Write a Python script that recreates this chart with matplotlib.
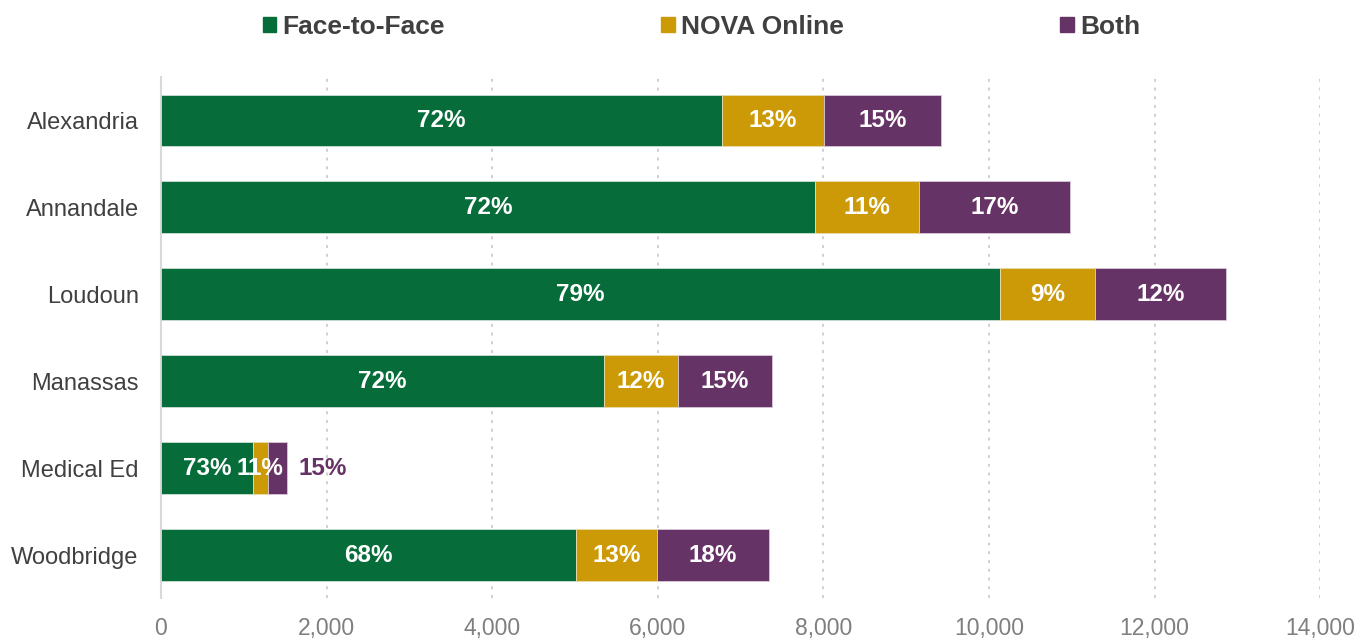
import numpy as np
import matplotlib.pyplot as plt
from matplotlib.patches import Patch
from matplotlib.ticker import FuncFormatter

plt.rcParams['font.family'] = ['Liberation Sans', 'DejaVu Sans']

# data
campuses = ["Alexandria", "Annandale", "Loudoun", "Manassas", "Medical Ed", "Woodbridge"]
face = [6775, 7900, 10135, 5350, 1110, 5010]
online = [1230, 1255, 1145, 895, 180, 980]
both = [1415, 1825, 1580, 1135, 230, 1355]
face_pct = ["72%", "72%", "79%", "72%", "73%", "68%"]
online_pct = ["13%", "11%", "9%", "12%", "11%", "13%"]
both_pct = ["15%", "17%", "12%", "15%", "15%", "18%"]

GREEN = "#066d3a"
GOLD = "#cc9a06"
PURPLE = "#663366"

fig = plt.figure(figsize=(13.71, 6.39), dpi=100)
ax = fig.add_axes([0.1174, 0.0634, 0.8456, 0.8166])

y = np.arange(len(campuses))
h = 0.59
face = np.array(face); online = np.array(online); both = np.array(both)
ax.barh(y, face, h, color=GREEN, edgecolor="#cfe0d5", linewidth=0.6, zorder=3)
ax.barh(y, online, h, left=face, color=GOLD, edgecolor="#e8dcb0", linewidth=0.6, zorder=3)
ax.barh(y, both, h, left=face + online, color=PURPLE, edgecolor="#d8c8d8", linewidth=0.6, zorder=3)

lab = dict(fontsize=17.5, fontweight="bold", ha="center", va="center", zorder=4)
for i in range(len(campuses)):
    ax.text(face[i] / 2, y[i], face_pct[i], color="white", **lab)
    ax.text(face[i] + online[i] / 2, y[i], online_pct[i], color="white", **lab)
    if both[i] < 600:
        ax.text(face[i] + online[i] + both[i] + 140, y[i], both_pct[i], color=PURPLE,
                fontsize=17.5, fontweight="bold", ha="left", va="center", zorder=4)
    else:
        ax.text(face[i] + online[i] + both[i] / 2, y[i], both_pct[i], color="white", **lab)

ax.set_xlim(0, 14000)
ax.set_ylim(len(campuses) - 0.5, -0.5)
ax.set_yticks(y)
ax.set_yticklabels(campuses, fontsize=17, color="#404040")
ax.set_xticks(np.arange(0, 14001, 2000))
ax.xaxis.set_major_formatter(FuncFormatter(lambda v, p: f"{int(v):,}"))
ax.tick_params(axis="x", labelsize=16.5, labelcolor="#7f7f7f", length=0, pad=13)
ax.tick_params(axis="y", length=0, pad=16)
ax.grid(axis="x", color="#cfcfcf", linestyle=(0, (1.5, 3)), linewidth=1.4, zorder=0)
for s in ["top", "right", "bottom"]:
    ax.spines[s].set_visible(False)
ax.spines["left"].set_color("#d9d9d9")
ax.spines["left"].set_linewidth(1.5)

handles = [Patch(color=GREEN), Patch(color=GOLD), Patch(color=PURPLE)]
fig.legend(handles, ["Face-to-Face", "NOVA Online", "Both"], loc="center",
           bbox_to_anchor=(0.5117, 0.958), ncol=3, frameon=False,
           prop={"size": 19, "weight": "bold"}, labelcolor="#404040",
           handlelength=0.5, handleheight=0.5, handletextpad=0.25, columnspacing=8.2)

fig.savefig("out.png", dpi=100)
